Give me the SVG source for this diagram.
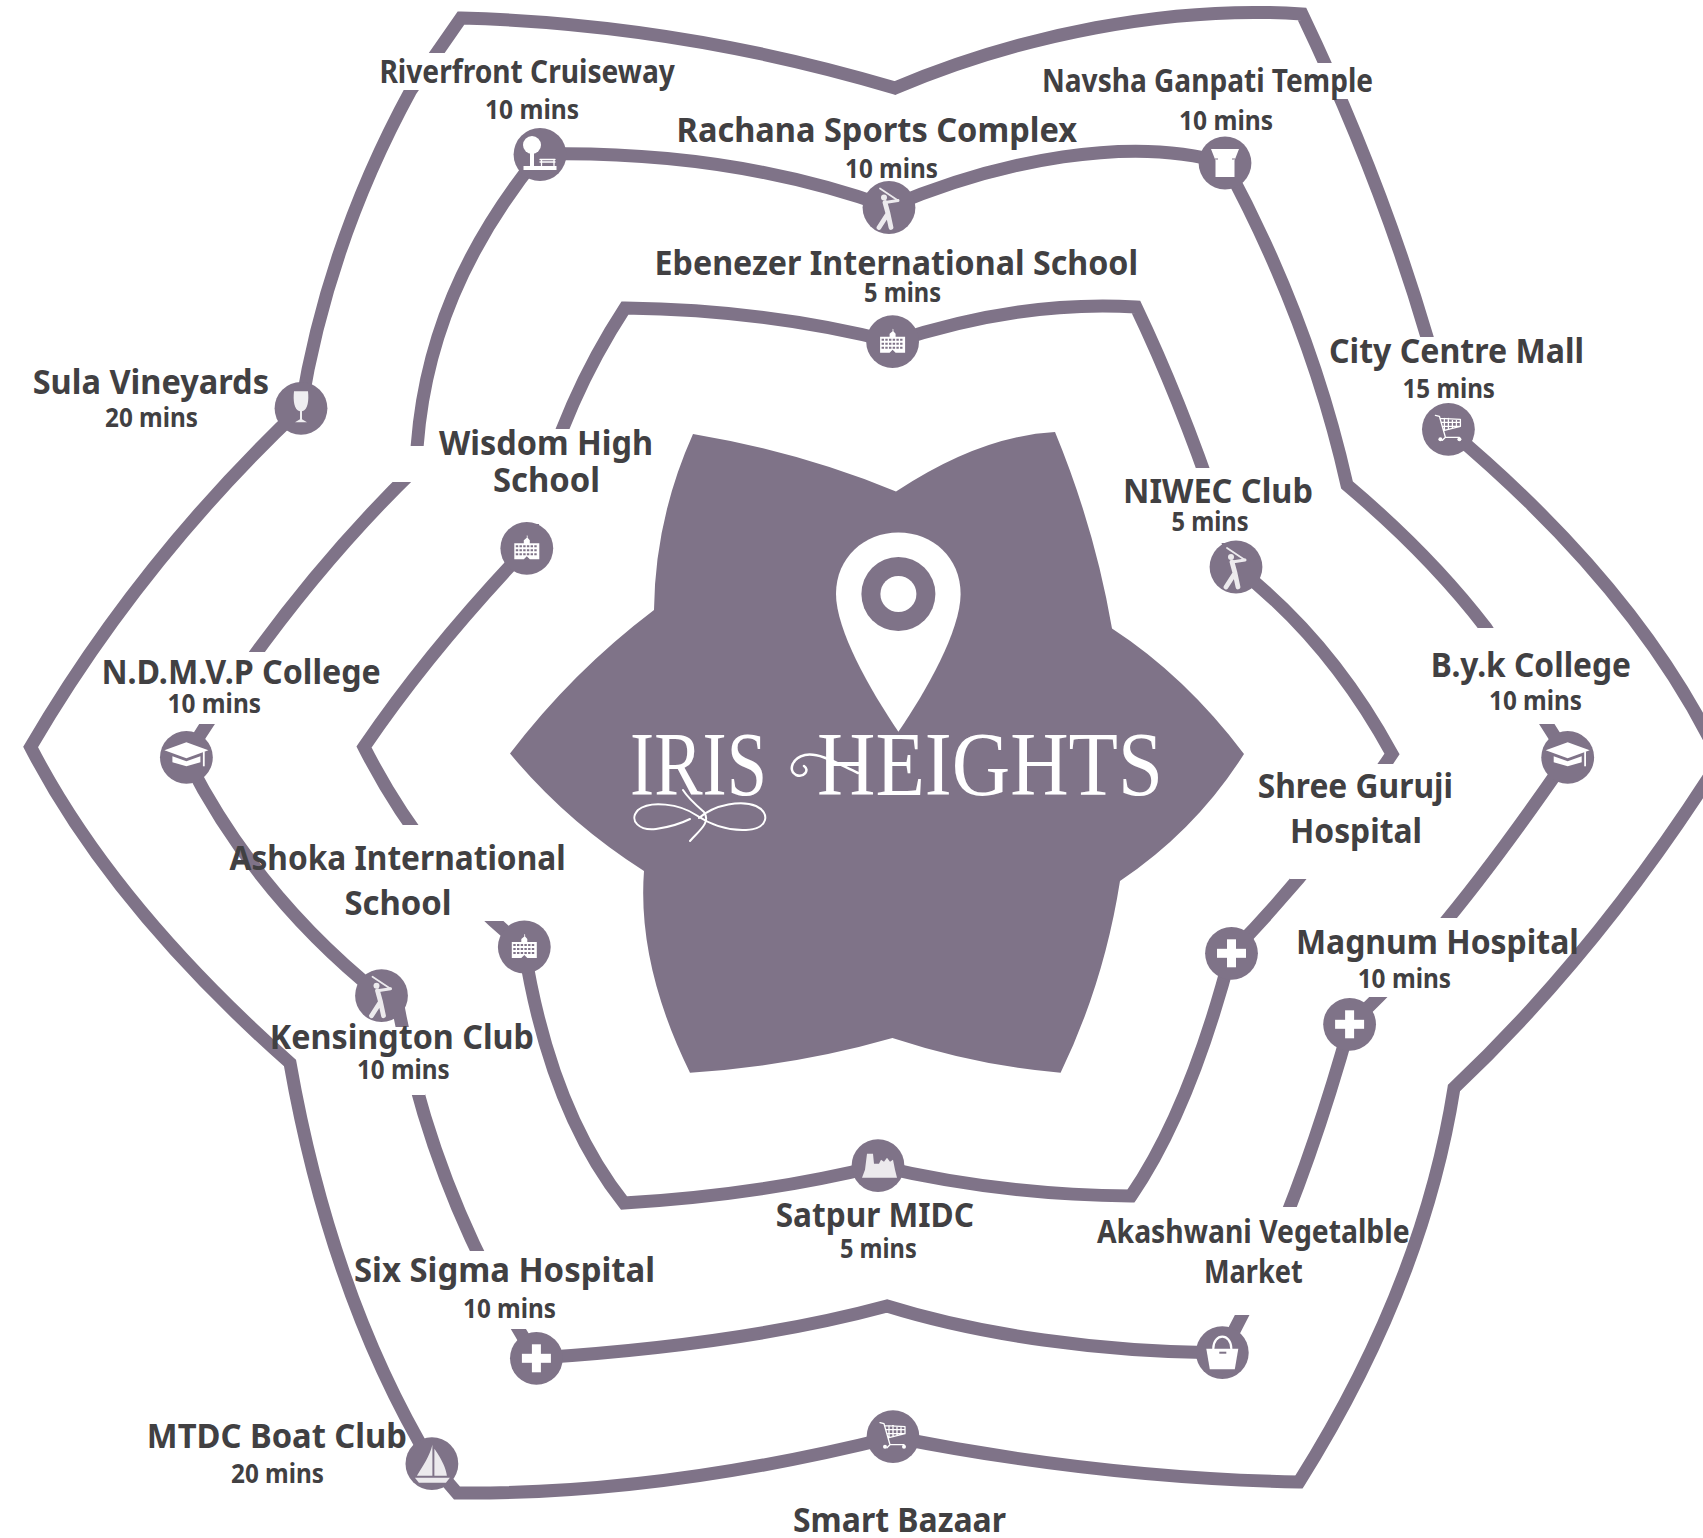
<svg xmlns="http://www.w3.org/2000/svg" xmlns:xlink="http://www.w3.org/1999/xlink" width="1703" height="1538" viewBox="0 0 1703 1538">
<style>
.bg{fill:#fff}
.c{fill:none;stroke:#7f7388;stroke-width:13;stroke-linejoin:miter;stroke-miterlimit:6}
.cut{fill:#fff}
.n{fill:#7f7388}
.t{font-family:"Noto Sans","Liberation Sans",sans-serif;font-weight:700;fill:#414042}
.a{font-size:34px}
.b{font-size:32px}
.m{font-size:27px}
.w{fill:#fff}
.s{fill:none;stroke:#fff;stroke-linecap:round;stroke-linejoin:round}
.logo{font-family:"Liberation Serif",serif;font-size:90px;fill:#fff}
</style>
<defs>
<g id="ic-school"><path class="w" d="M-12.500 -5L-3 -5L-3 -8L0 -10.500L0 -13L0.800 -12.500L0.800 -10.500L3 -8L3 -5L12.500 -5L12.500 11L3 11L0 8L-3 11L-12.500 11Z"/><path d="M-11 -2H11M-11 2H11M-11 6H11" fill="none" stroke="#7f7388" stroke-width="2" stroke-dasharray="2.400 1.300"/></g>
<g id="ic-golf" opacity=".85"><circle class="w" cx="-5" cy="-10" r="3"/><path class="s" stroke-width="4.800" d="M-4 -5L-1 6L-10 20M-1 6L2 20"/><path class="s" stroke-width="3" d="M-4 -5L9 -7"/><path class="s" stroke-width="1.800" d="M9 -7L-9 -19"/></g>
<g id="ic-park"><circle class="w" cx="-8" cy="-9.500" r="9"/><rect class="w" x="-10" y="-2" width="4" height="14"/><rect class="w" x="-16.500" y="11.500" width="33" height="4"/><path class="s" stroke-width="1.300" d="M0 5H15M0 7.500H15M1.500 5V11M14 5V11"/></g>
<g id="ic-temple"><path class="w" d="M-14 -14H14L9.500 -2.500V14H-9.500V-2.500Z"/><path d="M-10 -4H-7M7 -4H10" stroke="#7f7388" stroke-width="1" fill="none"/></g>
<g id="ic-cart"><path class="s" stroke-width="1.300" d="M-13 -14L-9 -13L-3 8H11M-8 -11L12 -10L12 -3L-4 1M-7 -7H12M-5 -3H12M-4 -11V1M0 -11V0M4 -10V-1M8 -10V-2M-6 11L-3 8"/><circle class="w" cx="-8" cy="10" r="2"/><circle class="w" cx="11" cy="10" r="2"/></g>
<g id="ic-wine" opacity=".88"><path class="w" d="M-7 -17H7C8 -8 7 2 1 3L1 11L6 14H-6L-1 11L-1 3C-7 2 -8 -8 -7 -17Z"/></g>
<g id="ic-cap"><path class="w" d="M0 -15L22 -7L0 1L-22 -7Z"/><path class="w" d="M-14 -1L0 4L14 -1L14 5L0 9L-14 5Z"/><rect class="w" x="16.500" y="-6" width="1.800" height="15"/></g>
<g id="ic-plus"><rect class="w" x="-14.500" y="-4.500" width="29" height="9"/><rect class="w" x="-4.500" y="-14" width="9" height="28"/></g>
<g id="ic-factory" opacity=".85"><path class="w" d="M-11 -12H-5L-4 -2L1 -2L3 -6L6 -4L9 -8L12 -4L15 -6L17 4L19 12H-16L-13 4Z"/></g>
<g id="ic-bag"><path class="w" d="M-16 -4H16L12.500 16.500H-12.500Z"/><path class="s" stroke-width="2.200" d="M-9 -4C-9 -20 9 -20 9 -4"/><rect x="-3" y="-1" width="7" height="2" fill="#7f7388"/></g>
<g id="ic-boat" opacity=".85"><path class="w" d="M0.500 -19L0.500 12L-15 12C-9 2 -2 -8 0.500 -19Z"/><path class="w" d="M2.500 -15C9 -6 14 4 15 12L2.500 12Z"/><path class="w" d="M-17 14H18L14 19H-13Z"/></g>
</defs>
<rect class="bg" width="1703" height="1538"/>
<g id="center">
<path id="star" class="n" d="M693 434Q800 452 896 491.500Q980 436 1055 432Q1095 529 1112 628.600Q1185 676 1244 754Q1196 830 1120 881Q1104 983 1060.600 1072.700Q978 1066 892.400 1038Q795 1066 690 1072.700Q637 965 644 871Q567 822 510 753.600Q572 672 654 610Q655 519 693 434Z"/>
<path class="w" d="M898.400 731.700C870 690 836 630 836 594C836 558 864 532.600 898.400 532.600C933 532.600 960.600 558 960.600 594C960.600 630 927 690 898.400 731.700Z"/>
<circle class="n" cx="898.400" cy="594" r="37"/>
<circle class="w" cx="898.400" cy="594" r="18"/>
<text class="logo" x="630" y="795" textLength="137" lengthAdjust="spacingAndGlyphs">IRIS</text>
<text class="logo" x="817" y="795" textLength="346" lengthAdjust="spacingAndGlyphs">HEIGHTS</text>
<path class="s" stroke-width="2" d="M683 790C688 798 697 806 704 812C711 822 700 830 690 841M699 818C715 804 742 800 756 806C771 813 768 829 746 830C725 831 708 823 696 815C680 804 650 800 638 810C628 821 640 831 656 829C670 827 680 824 690 819"/>
<path class="s" stroke-width="2.500" d="M858 773C840 765 820 752 805 755C792 758 788 770 796 775C804 778 810 770 804 766"/>
</g>
<g id="connectors">
<path class="c" d="M301 408Q140 560 30.600 747Q112 905 290 1063Q331 1296 432 1464L457 1493Q660 1495 893 1437Q1100 1478 1299 1482Q1423 1285 1454 1088Q1600 950 1720 760Q1640 590 1448 429Q1440 380 1427 337Q1380 177 1302 14C1170 5 1020 35 895 88Q680 24 461 18L411 90Q328 242 301 408Z"/>
<path class="c" d="M540 154Q730 150 889 207C1000 160 1130 135 1225 163Q1310 320 1347 485Q1430 555 1486 628L1567.700 757Q1438 946 1350 1024Q1294 1225 1222 1353C1100 1352 980 1335 887 1306C780 1335 660 1350 536 1358Q430 1190 397 1000L381.500 996Q255 895 186 757Q290 590 416 468C420 340 470 240 540 154Z"/>
<path class="c" d="M893 342Q1020 300 1136 307Q1190 420 1236 567Q1330 640 1392 754Q1320 862 1231 953Q1190 1110 1131 1196Q1000 1195 878 1166Q760 1195 624 1203Q550 1110 524 947Q426 869 364 747Q430 650 527 548Q555 415 625 308Q770 310 893 342Z"/>
</g>
<g id="label-gaps">
<rect class="cut" x="395" y="53" width="55" height="37"/>
<rect class="cut" x="1305" y="63" width="50" height="36"/>
<rect class="cut" x="1405" y="337" width="50" height="70"/>
<rect class="cut" x="385" y="446" width="48" height="36"/>
<rect class="cut" x="515" y="429" width="60" height="95"/>
<rect class="cut" x="1185" y="468" width="55" height="75"/>
<rect class="cut" x="1460" y="628" width="110" height="96"/>
<rect class="cut" x="180" y="652" width="85" height="72"/>
<rect class="cut" x="1290" y="764" width="125" height="115"/>
<rect class="cut" x="395" y="825" width="112" height="96"/>
<rect class="cut" x="1360" y="918" width="110" height="79"/>
<rect class="cut" x="385" y="1027" width="40" height="68"/>
<rect class="cut" x="1225" y="1207" width="80" height="108"/>
<rect class="cut" x="455" y="1251" width="75" height="78"/>
</g>
<g id="node-riverfront"><circle class="n" cx="540" cy="154.500" r="26.400"/><use href="#ic-park" x="540" y="154.500"/><text class="t b" x="379.400" y="83" textLength="295.500" lengthAdjust="spacingAndGlyphs">Riverfront Cruiseway</text><text class="t m" x="485" y="119" textLength="94" lengthAdjust="spacingAndGlyphs">10 mins</text></g>
<g id="node-rachana"><circle class="n" cx="889" cy="207.500" r="26.400"/><use href="#ic-golf" x="889" y="207.500"/><text class="t a" x="676.600" y="141.700" textLength="400.400" lengthAdjust="spacingAndGlyphs">Rachana Sports Complex</text><text class="t m" x="845" y="178" textLength="93" lengthAdjust="spacingAndGlyphs">10 mins</text></g>
<g id="node-ebenezer"><circle class="n" cx="892.600" cy="341.700" r="26.400"/><use href="#ic-school" x="892.600" y="341.700"/><text class="t a" x="654.600" y="275" textLength="483.400" lengthAdjust="spacingAndGlyphs">Ebenezer International School</text><text class="t m" x="864" y="301.700" textLength="77" lengthAdjust="spacingAndGlyphs">5 mins</text></g>
<g id="node-navsha"><circle class="n" cx="1225" cy="163" r="26.400"/><use href="#ic-temple" x="1225" y="163"/><text class="t b" x="1042" y="91.700" textLength="331" lengthAdjust="spacingAndGlyphs">Navsha Ganpati Temple</text><text class="t m" x="1179" y="130" textLength="94" lengthAdjust="spacingAndGlyphs">10 mins</text></g>
<g id="node-citycentre"><circle class="n" cx="1448.400" cy="429.300" r="26.400"/><use href="#ic-cart" x="1448.400" y="429.300"/><text class="t a" x="1329" y="363" textLength="255" lengthAdjust="spacingAndGlyphs">City Centre Mall</text><text class="t m" x="1402.500" y="397.700" textLength="92.500" lengthAdjust="spacingAndGlyphs">15 mins</text></g>
<g id="node-sula"><circle class="n" cx="301" cy="408.300" r="26.400"/><use href="#ic-wine" x="301" y="408.300"/><text class="t a" x="32.700" y="394" textLength="236.300" lengthAdjust="spacingAndGlyphs">Sula Vineyards</text><text class="t m" x="105" y="427" textLength="93" lengthAdjust="spacingAndGlyphs">20 mins</text></g>
<g id="node-wisdom"><circle class="n" cx="526.800" cy="548.300" r="26.400"/><use href="#ic-school" x="526.800" y="548.300"/><text class="t a" x="439" y="455" textLength="214" lengthAdjust="spacingAndGlyphs">Wisdom High</text><text class="t a" x="493" y="491.700" textLength="107" lengthAdjust="spacingAndGlyphs">School</text></g>
<g id="node-niwec"><circle class="n" cx="1236" cy="567" r="26.400"/><use href="#ic-golf" x="1236" y="567"/><text class="t a" x="1123" y="502.700" textLength="190" lengthAdjust="spacingAndGlyphs">NIWEC Club</text><text class="t m" x="1171.500" y="530.800" textLength="77" lengthAdjust="spacingAndGlyphs">5 mins</text></g>
<g id="node-ndmvp"><circle class="n" cx="186.400" cy="757.300" r="26.400"/><use href="#ic-cap" x="186.400" y="757.300"/><text class="t a" x="101.400" y="684" textLength="279.400" lengthAdjust="spacingAndGlyphs">N.D.M.V.P College</text><text class="t m" x="167.600" y="712.700" textLength="93.400" lengthAdjust="spacingAndGlyphs">10 mins</text></g>
<g id="node-byk"><circle class="n" cx="1567.700" cy="757.300" r="26.400"/><use href="#ic-cap" x="1567.700" y="757.300"/><text class="t a" x="1430.700" y="676.700" textLength="200.300" lengthAdjust="spacingAndGlyphs">B.y.k College</text><text class="t m" x="1489" y="710" textLength="93" lengthAdjust="spacingAndGlyphs">10 mins</text></g>
<g id="node-shree"><circle class="n" cx="1231.500" cy="953.300" r="26.400"/><use href="#ic-plus" x="1231.500" y="953.300"/><text class="t a" x="1257.700" y="797.700" textLength="195.300" lengthAdjust="spacingAndGlyphs">Shree Guruji</text><text class="t a" x="1290" y="842.700" textLength="132" lengthAdjust="spacingAndGlyphs">Hospital</text></g>
<g id="node-ashoka"><circle class="n" cx="524.300" cy="947" r="26.400"/><use href="#ic-school" x="524.300" y="947"/><text class="t a" x="229.600" y="870" textLength="336" lengthAdjust="spacingAndGlyphs">Ashoka International</text><text class="t a" x="344.400" y="915" textLength="107.200" lengthAdjust="spacingAndGlyphs">School</text></g>
<g id="node-kensington"><circle class="n" cx="381.500" cy="995.700" r="26.400"/><use href="#ic-golf" x="381.500" y="995.700"/><text class="t a" x="269.800" y="1049.300" textLength="264.100" lengthAdjust="spacingAndGlyphs">Kensington Club</text><text class="t m" x="357" y="1079.300" textLength="92.700" lengthAdjust="spacingAndGlyphs">10 mins</text></g>
<g id="node-magnum"><circle class="n" cx="1349.600" cy="1024.300" r="26.400"/><use href="#ic-plus" x="1349.600" y="1024.300"/><text class="t a" x="1296" y="954.300" textLength="282.800" lengthAdjust="spacingAndGlyphs">Magnum Hospital</text><text class="t m" x="1357.700" y="988.300" textLength="93.300" lengthAdjust="spacingAndGlyphs">10 mins</text></g>
<g id="node-satpur"><circle class="n" cx="878" cy="1165.700" r="26.400"/><use href="#ic-factory" x="878" y="1165.700"/><text class="t a" x="775.700" y="1226.700" textLength="198.300" lengthAdjust="spacingAndGlyphs">Satpur MIDC</text><text class="t m" x="840" y="1258" textLength="76.700" lengthAdjust="spacingAndGlyphs">5 mins</text></g>
<g id="node-sixsigma"><circle class="n" cx="536.400" cy="1358.300" r="26.400"/><use href="#ic-plus" x="536.400" y="1358.300"/><text class="t a" x="354" y="1281.700" textLength="301" lengthAdjust="spacingAndGlyphs">Six Sigma Hospital</text><text class="t m" x="463" y="1318" textLength="93" lengthAdjust="spacingAndGlyphs">10 mins</text></g>
<g id="node-akashwani"><circle class="n" cx="1222.300" cy="1352.700" r="26.400"/><use href="#ic-bag" x="1222.300" y="1352.700"/><text class="t b" x="1097" y="1242.700" textLength="312.600" lengthAdjust="spacingAndGlyphs">Akashwani Vegetalble</text><text class="t b" x="1204" y="1283" textLength="98.700" lengthAdjust="spacingAndGlyphs">Market</text></g>
<g id="node-mtdc"><circle class="n" cx="431.900" cy="1463.700" r="26.400"/><use href="#ic-boat" x="431.900" y="1463.700"/><text class="t a" x="146.800" y="1448.300" textLength="260.200" lengthAdjust="spacingAndGlyphs">MTDC Boat Club</text><text class="t m" x="231" y="1482.700" textLength="93" lengthAdjust="spacingAndGlyphs">20 mins</text></g>
<g id="node-smartbazaar"><circle class="n" cx="893" cy="1436.700" r="26.400"/><use href="#ic-cart" x="893" y="1436.700"/><text class="t a" x="793" y="1531.700" textLength="213" lengthAdjust="spacingAndGlyphs">Smart Bazaar</text></g>
</svg>
